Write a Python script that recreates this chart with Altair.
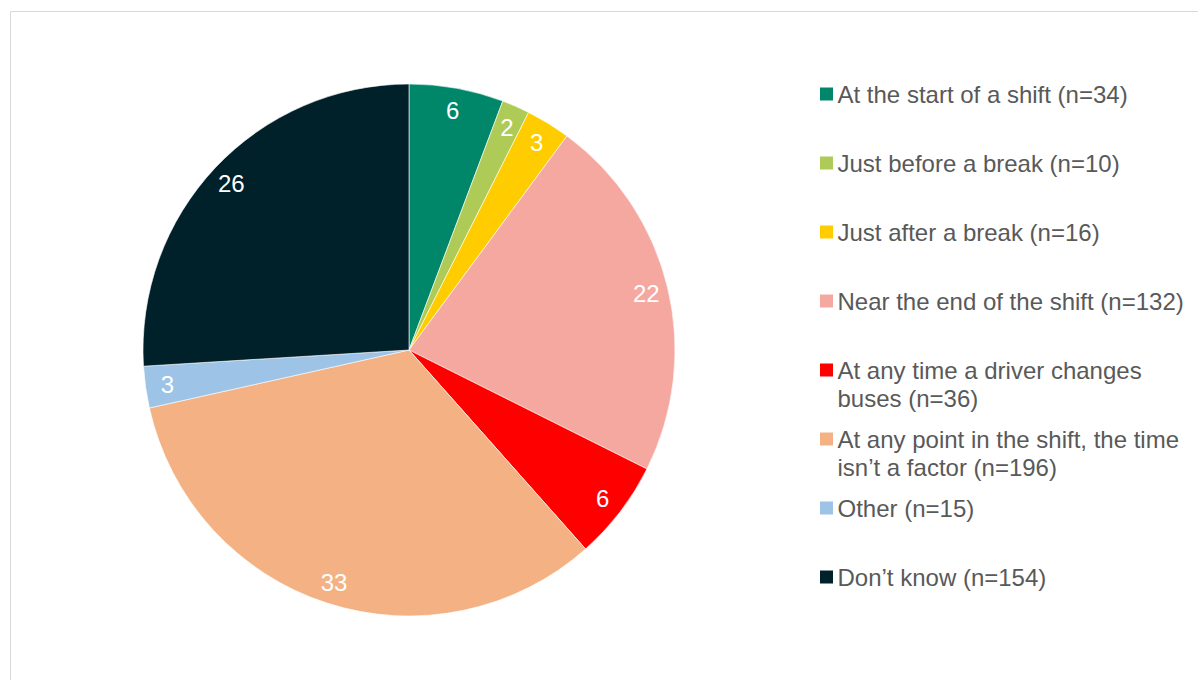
import altair as alt
import pandas as pd

categories = [
    "At the start of a shift (n=34)",
    "Just before a break (n=10)",
    "Just after a break (n=16)",
    "Near the end of the shift (n=132)",
    "At any time a driver changes\nbuses (n=36)",
    "At any point in the shift, the time\nisn\u2019t a factor (n=196)",
    "Other (n=15)",
    "Don\u2019t know (n=154)",
]
counts = [34, 10, 16, 132, 36, 196, 15, 154]
percent_labels = [6, 2, 3, 22, 6, 33, 3, 26]
colors = ["#00876A", "#AFCB57", "#FFCC00", "#F5A89F", "#FF0000", "#F4B183", "#9DC3E6", "#00212A"]

df = pd.DataFrame({
    "cat": categories,
    "n": counts,
    "pct": percent_labels,
    "idx": list(range(len(categories))),
})

FONT = "Liberation Sans"
color_scale = alt.Scale(domain=categories, range=colors)
cx, cy, R = 409, 350, 266

base = alt.Chart(df)

pie = base.mark_arc(outerRadius=R, stroke="white", strokeWidth=0.6).encode(
    theta=alt.Theta("n:Q", stack=True),
    order=alt.Order("idx:Q"),
    color=alt.Color("cat:N", scale=color_scale, legend=None),
    x=alt.value(cx),
    y=alt.value(cy),
)

pie_text = base.mark_text(
    radius=244, font=FONT, fontSize=24, color="white", align="center", baseline="middle"
).encode(
    theta=alt.Theta("n:Q", stack=True),
    order=alt.Order("idx:Q"),
    text=alt.Text("pct:Q"),
    x=alt.value(cx),
    y=alt.value(cy + 2),
)

ysc = alt.Scale(type="point", domain=categories, range=[94, 577], padding=0)

leg_sq = base.mark_square(size=169, opacity=1).encode(
    y=alt.Y("cat:N", scale=ysc, axis=None),
    x=alt.value(826.5),
    color=alt.Color("cat:N", scale=color_scale, legend=None),
)

leg_txt = base.mark_text(
    align="left", baseline="alphabetic", dy=8.5, font=FONT, fontSize=24,
    color="#595959", lineBreak="\n", lineHeight=28.5,
).encode(
    y=alt.Y("cat:N", scale=ysc, axis=None),
    x=alt.value(837.5),
    text="cat:N",
)

one = alt.Data(values=[{"a": 1}])
rule_left = alt.Chart(one).mark_rule(color="#D9D9D9", strokeWidth=1).encode(
    x=alt.value(10.5), y=alt.value(11.5), y2=alt.value(680)
)
rule_top = alt.Chart(one).mark_rule(color="#D9D9D9", strokeWidth=1).encode(
    y=alt.value(11.5), x=alt.value(10.5), x2=alt.value(1198)
)

chart = alt.layer(rule_left, rule_top, pie, pie_text, leg_sq, leg_txt).properties(
    width=1198, height=680, padding=0, autosize=alt.AutoSizeParams(type="none"),
    background="white",
).configure_view(stroke=None)

chart.save("out.html", embed_options={"renderer": "svg", "actions": False})
